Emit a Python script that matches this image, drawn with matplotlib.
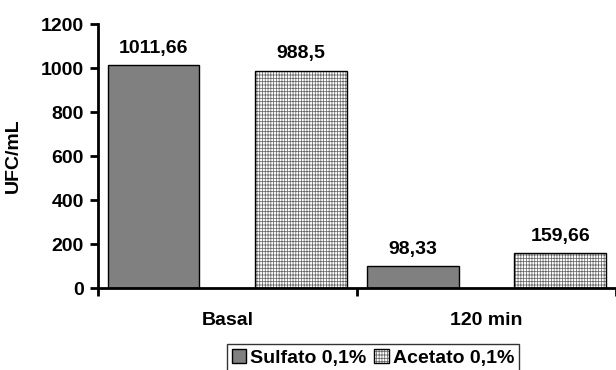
import matplotlib
matplotlib.use("Agg")
import matplotlib.pyplot as plt
import numpy as np

categories = ["Basal", "120 min"]
series_names = ["Sulfato 0,1%", "Acetato 0,1%"]
sulfato = [1011.66, 98.33]
acetato = [988.5, 159.66]
labels_sulfato = ["1011,66", "98,33"]
labels_acetato = ["988,5", "159,66"]
y_ticks = [0, 200, 400, 600, 800, 1000, 1200]

plt.rcParams["font.family"] = ["Liberation Sans", "DejaVu Sans"]
plt.rcParams["font.weight"] = "bold"
plt.rcParams["hatch.linewidth"] = 0.55
FS = 14

fig = plt.figure(figsize=(6.16, 3.70), dpi=100)
ax = fig.add_axes([0.159, 0.2216, 0.841, 0.7135])

x = np.arange(len(categories))
w = 0.354
off = 0.285

b1 = ax.bar(x - off, sulfato, w, color="#808080", edgecolor="black",
            linewidth=1.0, label=series_names[0])
b2 = ax.bar(x + off, acetato, w, color="white", edgecolor="#555555",
            hatch="||||||-----", linewidth=1.0, label=series_names[1])
for r in b2:
    r.set_edgecolor("black")
    r._hatch_color = (0.4, 0.4, 0.4, 1.0)

for xs, vals, labs in ((x - off, sulfato, labels_sulfato),
                       (x + off, acetato, labels_acetato)):
    for xi, v, t in zip(xs, vals, labs):
        ax.annotate(t, (xi, v), xytext=(0, 6), textcoords="offset points",
                    ha="center", va="bottom", fontsize=FS, fontweight="bold")

ax.set_ylim(0, 1200)
ax.set_xlim(-0.5, 1.47)
ax.set_yticks(y_ticks)
ax.set_yticklabels([str(t) for t in y_ticks], fontsize=FS, fontweight="bold")

# category boundaries carry the tick marks, names sit centered below
ax.set_xticks([-0.5, 0.5, 1.5])
ax.set_xticklabels([])
ax.set_xticks(x, minor=True)
ax.set_xticklabels(categories, minor=True, fontsize=FS, fontweight="bold")
ax.tick_params(axis="x", which="minor", length=0, pad=17)
ax.tick_params(axis="x", which="major", length=6, width=2, direction="out")
ax.tick_params(axis="y", length=6, width=2, direction="out", pad=4)

for s in ("top", "right"):
    ax.spines[s].set_visible(False)
for s in ("left", "bottom"):
    ax.spines[s].set_linewidth(2)

fig.text(13 / 616, 1 - 156 / 370, "UFC/mL", rotation=90, ha="center",
         va="center", fontsize=FS, fontweight="bold")

leg = fig.legend(handles=[b1, b2], labels=series_names, loc="upper left",
                 bbox_to_anchor=(227 / 616, 1 - 344 / 370), ncol=2,
                 frameon=True, fancybox=False, edgecolor="black",
                 prop={"size": FS, "weight": "bold"}, handlelength=0.75,
                 handleheight=0.75, handletextpad=0.2, columnspacing=0.4,
                 borderpad=0.25, borderaxespad=0)
leg.get_frame().set_linewidth(1.0)

fig.savefig("out.png", dpi=100)
